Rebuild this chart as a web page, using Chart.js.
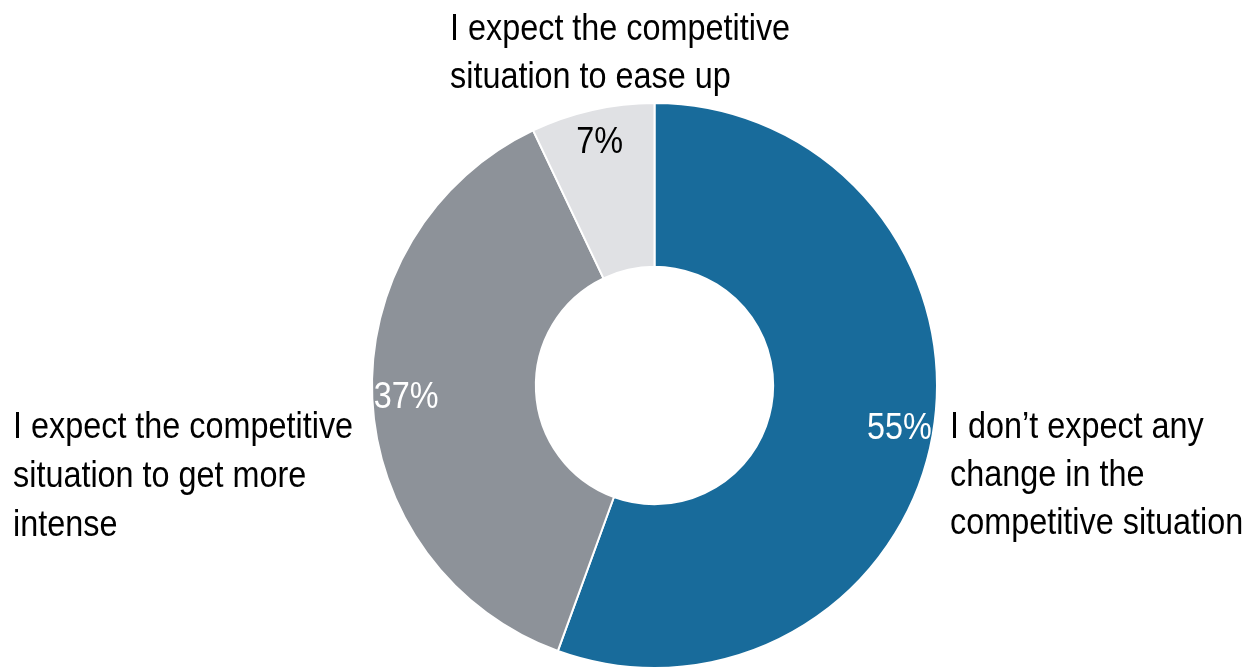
<!DOCTYPE html>
<html>
<head>
<meta charset="utf-8">
<title>Competitive situation outlook</title>
<script src="https://cdn.jsdelivr.net/npm/chart.js@4"></script>
<style>
  html, body { margin: 0; padding: 0; background: #fff; }
  #wrap { width: 1249px; height: 670px; }
</style>
</head>
<body>
<div id="wrap"><canvas id="chart" width="1249" height="670"></canvas></div>
<script>
// survey answers, clockwise from 12 o'clock
const answers = [
    "I don\u2019t expect any change in the competitive situation",
    "I expect the competitive situation to get more intense",
    "I expect the competitive situation to ease up"
];
const shares = [55, 37, 7];
const sliceColors = ["#186B9B", "#8D9299", "#E0E1E4"];
const valueColors = ["#ffffff", "#ffffff", "#000000"];

// wrapped category text, one entry per slice
const answerLines = [
    ["I don\u2019t expect any", "change in the", "competitive situation"],
    ["I expect the competitive", "situation to get more", "intense"],
    ["I expect the competitive", "situation to ease up"]
];

// no narrow face installed, so the regular one gets squeezed sideways
const FONT = "37px 'Liberation Sans Narrow', 'Arial Narrow', 'Liberation Sans', Arial, sans-serif";
const SQUEEZE = 0.875;

// where each answer's text block starts (left x, first baseline) and its line step
const answerAnchors = [
    {x: 950, y: 438, step: 48},
    {x: 13, y: 438, step: 49},
    {x: 450, y: 40, step: 48}
];

function narrowText(ctx, text, x, y) {
    ctx.save();
    ctx.translate(x, y);
    ctx.scale(SQUEEZE, 1);
    ctx.fillText(text, 0, 0);
    ctx.restore();
}

const sliceText = {
    id: "sliceText",
    afterDatasetsDraw(chart) {
        const ctx = chart.ctx;
        const meta = chart.getDatasetMeta(0);
        ctx.save();
        ctx.font = FONT;

        // percentage inside each slice, near the outer rim
        ctx.textAlign = "center";
        ctx.textBaseline = "middle";
        meta.data.forEach((arc, i) => {
            const p = arc.getProps(["x", "y", "startAngle", "endAngle", "outerRadius"], true);
            const mid = (p.startAngle + p.endAngle) / 2;
            const r = p.outerRadius * 0.88;
            ctx.fillStyle = valueColors[i];
            narrowText(ctx, shares[i] + "%", p.x + Math.cos(mid) * r, p.y + Math.sin(mid) * r);
        });

        // category text next to the ring
        ctx.textAlign = "left";
        ctx.textBaseline = "alphabetic";
        ctx.fillStyle = "#000000";
        answerLines.forEach((lines, i) => {
            const a = answerAnchors[i];
            lines.forEach((line, j) => narrowText(ctx, line, a.x, a.y + j * a.step));
        });
        ctx.restore();
    }
};

new Chart(document.getElementById("chart"), {
    type: "doughnut",
    data: {
        labels: answers,
        datasets: [{
            data: shares,
            backgroundColor: sliceColors,
            borderColor: "#ffffff",
            borderWidth: 2
        }]
    },
    options: {
        responsive: false,
        animation: false,
        cutout: "42%",
        layout: {
            padding: {left: 371, right: 311, top: 102, bottom: 1}
        },
        plugins: {
            legend: {display: false},
            tooltip: {enabled: false}
        }
    },
    plugins: [sliceText]
});
</script>
</body>
</html>
